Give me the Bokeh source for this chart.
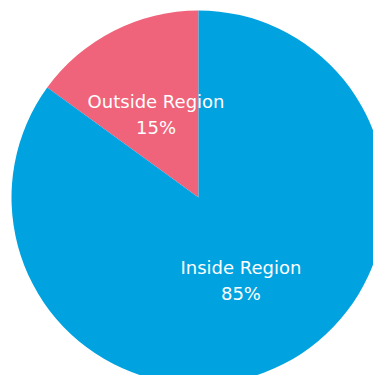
import math
from bokeh.plotting import figure
from bokeh.models import ColumnDataSource
from bokeh.core.properties import value
from bokeh.embed import file_html
from bokeh.resources import INLINE

categories = ["Outside Region", "Inside Region"]
percents = [15, 85]
colors = ["#ef647a", "#00a3e0"]

R = 187
p = figure(width=373, height=375, x_range=(-198, 175), y_range=(-178, 197),
           output_backend="svg", toolbar_location=None, min_border=0)
p.axis.visible = False
p.grid.visible = False
p.outline_line_color = None
p.background_fill_color = "white"

starts, ends, lx, ly, line1, line2 = [], [], [], [], [], []
a = math.pi / 2
for c, v in zip(categories, percents):
    span = v / 100 * 2 * math.pi
    starts.append(a)
    ends.append(a + span)
    mid = a + span / 2
    lx.append(0.5 * R * math.cos(mid))
    ly.append(0.5 * R * math.sin(mid))
    line1.append(c)
    line2.append(f"{v}%")
    a += span

src = ColumnDataSource(dict(start=starts, end=ends, color=colors, lx=lx, ly=ly,
                            l1=line1, l2=line2))
p.wedge(x=0, y=0, radius=R, radius_units="data", start_angle="start", end_angle="end",
        fill_color="color", line_color=None, source=src)
p.text(x="lx", y="ly", text="l1", source=src, text_align="center", text_baseline="middle",
       y_offset=-13, text_color="white", text_font=value("DejaVu Sans"), text_font_size="18px")
p.text(x="lx", y="ly", text="l2", source=src, text_align="center", text_baseline="middle",
       y_offset=13, text_color="white", text_font=value("DejaVu Sans"), text_font_size="18px")

open("out.html", "w").write(file_html(p, INLINE))
